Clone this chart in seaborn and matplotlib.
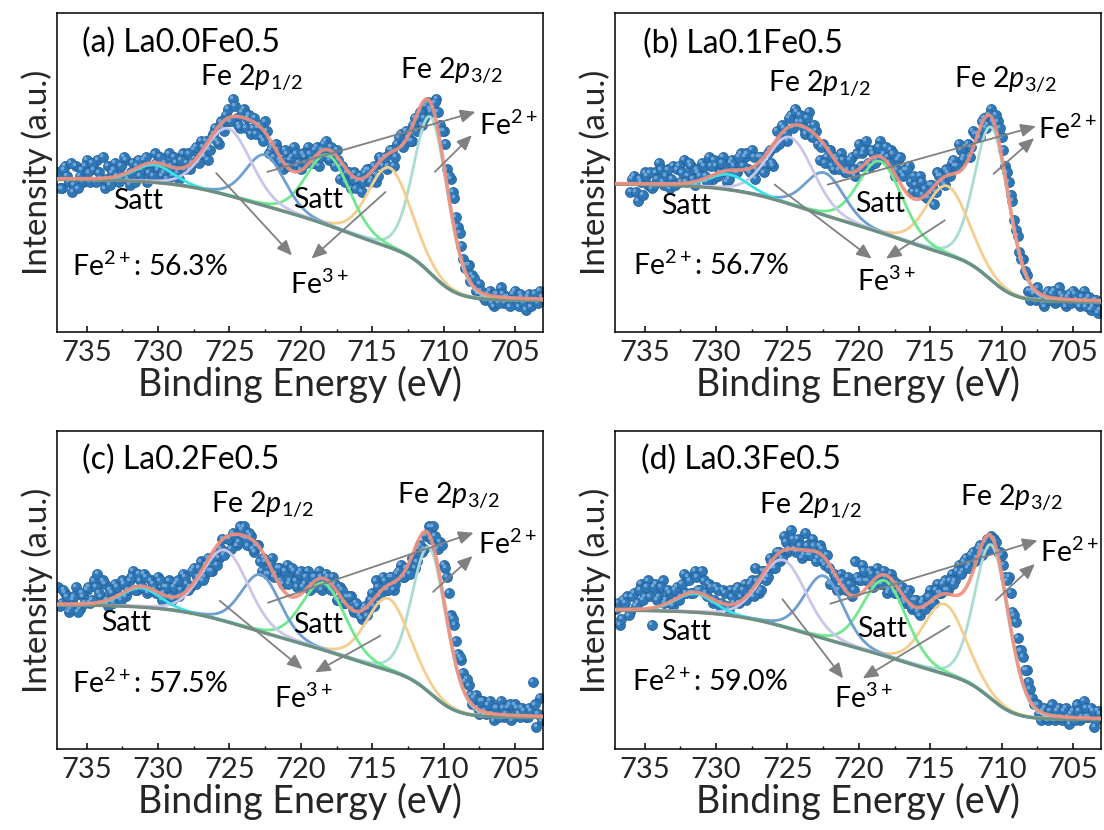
import numpy as np
import pandas as pd
import matplotlib
matplotlib.use("Agg")
import matplotlib.pyplot as plt
from matplotlib.ticker import MultipleLocator
from matplotlib.transforms import offset_copy
import seaborn as sns

sns.set_theme(style="white")
plt.rcParams["font.family"] = ["Lato", "DejaVu Sans"]
plt.rcParams["mathtext.fontset"] = "custom"
plt.rcParams["mathtext.rm"] = "Lato"
plt.rcParams["mathtext.it"] = "Lato:italic"
plt.rcParams["mathtext.bf"] = "Lato:bold"

# ---------------- data ----------------
panel_ids = ["a", "b", "c", "d"]
samples = ["La0.0Fe0.5", "La0.1Fe0.5", "La0.2Fe0.5", "La0.3Fe0.5"]
fe2_share = ["56.3%", "56.7%", "57.5%", "59.0%"]
energy_step = 0.25
energy_start = [737.0, 736.0, 737.0, 737.0]
x_ticks = [735, 730, 725, 720, 715, 710, 705]

# measured points on the 0.25 eV grid starting at energy_start
intensity_a = [50, 45, 52, 47, 44, 52, 49, 47, 54, 47,
               51, 54, 48, 45, 52, 50, 53, 47, 49, 54,
               46, 53, 52, 49, 54, 47, 52, 56, 51, 49,
               53, 56, 49, 53, 48, 56, 53, 51, 57, 54,
               60, 55, 54, 61, 64, 59, 64, 68, 66, 73,
               67, 64, 70, 67, 62, 67, 64, 61, 66, 56,
               58, 59, 54, 51, 56, 54, 58, 52, 51, 55,
               58, 54, 57, 52, 57, 60, 54, 55, 57, 48,
               49, 50, 45, 50, 47, 44, 50, 51, 48, 47,
               55, 52, 51, 57, 52, 59, 62, 59, 61, 60,
               67, 67, 65, 71, 70, 70, 73, 65, 63, 51,
               48, 42, 33, 27, 20, 21, 18, 13, 15, 11,
               11, 13, 8, 12, 14, 9, 11, 10, 13, 8,
               11, 7, 12, 10, 10, 13]
intensity_b = [44, 49, 41, 47, 50, 46, 45, 50, 53, 47,
               49, 45, 52, 51, 47, 54, 49, 52, 46, 50,
               53, 49, 55, 48, 52, 50, 55, 47, 53, 52,
               50, 56, 55, 51, 57, 48, 55, 53, 52, 57,
               52, 63, 60, 64, 60, 68, 70, 66, 66, 62,
               69, 61, 63, 54, 59, 55, 57, 51, 54, 56,
               50, 51, 55, 49, 59, 56, 60, 52, 56, 54,
               60, 56, 55, 57, 49, 54, 50, 51, 52, 44,
               46, 49, 43, 42, 46, 40, 50, 49, 46, 50,
               53, 52, 59, 54, 58, 55, 63, 62, 61, 67,
               65, 70, 65, 66, 61, 52, 47, 41, 32, 25,
               23, 18, 10, 12, 14, 10, 8, 13, 12, 9,
               14, 11, 8, 12, 13, 10, 8, 13, 10, 7,
               10, 6]
intensity_c = [51, 46, 49, 43, 47, 51, 44, 48, 50, 46,
               53, 55, 48, 52, 45, 49, 52, 48, 53, 48,
               53, 56, 50, 53, 55, 49, 53, 50, 54, 47,
               51, 53, 47, 52, 48, 55, 52, 51, 57, 54,
               59, 54, 60, 56, 61, 60, 66, 62, 66, 68,
               64, 70, 70, 64, 67, 62, 64, 56, 59, 55,
               60, 55, 57, 52, 58, 53, 56, 51, 56, 52,
               56, 51, 54, 56, 50, 55, 51, 54, 47, 51,
               46, 48, 48, 43, 45, 41, 45, 44, 49, 53,
               48, 54, 50, 54, 50, 55, 58, 54, 57, 60,
               57, 63, 62, 67, 70, 70, 63, 65, 58, 54,
               42, 39, 30, 28, 21, 20, 14, 17, 11, 15,
               11, 15, 9, 13, 15, 10, 13, 9, 14, 11,
               13, 10, 13, 21, 7, 16]
intensity_d = [44, 39, 47, 48, 43, 49, 46, 52, 48, 53,
               39, 52, 48, 53, 47, 49, 45, 51, 48, 55,
               54, 49, 56, 50, 56, 49, 52, 46, 51, 45,
               50, 45, 50, 46, 51, 48, 52, 48, 53, 57,
               49, 56, 53, 60, 57, 62, 59, 67, 62, 69,
               63, 66, 60, 68, 61, 66, 59, 64, 59, 61,
               52, 55, 50, 55, 51, 54, 48, 59, 53, 58,
               53, 56, 51, 57, 52, 56, 49, 55, 49, 52,
               51, 46, 50, 44, 47, 42, 47, 45, 50, 46,
               52, 49, 53, 50, 55, 53, 58, 56, 60, 58,
               62, 60, 64, 62, 66, 67, 66, 62, 61, 54,
               54, 43, 40, 31, 29, 25, 19, 14, 14, 9,
               13, 9, 14, 9, 13, 9, 13, 8, 12, 14,
               9, 15, 10, 13, 7, 12]

# measured points half-way between the grid above (energy_start - 0.125 eV onwards)
intensity_a_mid = [45, 51, 49, 53, 46, 45, 51, 52, 50, 53,
                   47, 50, 55, 48, 46, 51, 49, 52, 55, 48,
                   50, 47, 54, 51, 55, 50, 49, 53, 55, 50,
                   48, 52, 55, 50, 54, 51, 56, 53, 58, 53,
                   58, 60, 57, 62, 60, 66, 63, 70, 66, 71,
                   65, 69, 64, 68, 64, 62, 65, 60, 63, 57,
                   55, 57, 53, 57, 52, 55, 56, 53, 56, 53,
                   56, 53, 58, 55, 59, 55, 58, 52, 54, 52,
                   47, 50, 48, 45, 49, 47, 51, 47, 52, 49,
                   54, 55, 52, 57, 55, 61, 58, 63, 60, 65,
                   63, 69, 67, 72, 69, 72, 69, 63, 59, 49,
                   44, 36, 31, 23, 21, 16, 17, 12, 13, 10,
                   12, 9, 12, 9, 12, 11, 8, 12, 10, 12,
                   9, 11, 8, 12, 9, 11]
intensity_b_mid = [48, 44, 48, 43, 49, 50, 46, 48, 51, 46,
                   51, 48, 46, 52, 50, 47, 53, 48, 51, 49,
                   52, 47, 52, 54, 49, 53, 50, 48, 54, 50,
                   55, 52, 56, 50, 55, 51, 55, 50, 56, 53,
                   58, 59, 65, 62, 67, 64, 69, 68, 64, 67,
                   63, 65, 59, 58, 53, 57, 52, 55, 51, 54,
                   50, 54, 51, 56, 52, 57, 53, 57, 53, 58,
                   55, 58, 53, 56, 51, 55, 49, 51, 47, 49,
                   44, 47, 45, 42, 46, 44, 49, 47, 51, 49,
                   54, 52, 57, 55, 59, 58, 62, 61, 66, 64,
                   68, 66, 68, 64, 57, 50, 43, 35, 30, 23,
                   19, 13, 13, 10, 12, 9, 12, 10, 13, 10,
                   12, 9, 11, 9, 12, 9, 11, 8, 11, 8,
                   10, 7]
intensity_c_mid = [45, 50, 48, 44, 48, 43, 49, 46, 51, 47,
                   51, 49, 53, 47, 50, 46, 51, 47, 52, 50,
                   54, 50, 55, 51, 54, 50, 52, 49, 53, 49,
                   51, 48, 51, 53, 50, 54, 50, 56, 52, 57,
                   53, 58, 56, 60, 58, 63, 61, 66, 63, 67,
                   65, 69, 66, 68, 63, 64, 59, 60, 55, 58,
                   54, 57, 53, 56, 52, 57, 53, 55, 51, 54,
                   50, 54, 51, 54, 52, 54, 50, 52, 47, 50,
                   46, 48, 44, 46, 42, 44, 42, 47, 45, 51,
                   49, 53, 50, 54, 52, 56, 54, 57, 55, 60,
                   59, 64, 63, 68, 66, 67, 63, 64, 57, 49,
                   41, 34, 29, 24, 22, 17, 16, 13, 15, 12,
                   14, 11, 13, 10, 13, 11, 14, 10, 13, 10,
                   12, 10, 12, 14, 11, 9]
intensity_d_mid = [46, 41, 46, 42, 48, 45, 50, 47, 51, 48,
                   51, 47, 51, 46, 50, 46, 50, 47, 52, 49,
                   53, 49, 54, 50, 53, 48, 51, 47, 50, 46,
                   49, 44, 48, 50, 46, 50, 47, 52, 48, 53,
                   50, 56, 54, 59, 57, 62, 60, 65, 63, 66,
                   62, 64, 61, 64, 61, 64, 60, 63, 58, 57,
                   52, 54, 50, 53, 50, 52, 50, 54, 53, 56,
                   53, 55, 52, 55, 52, 54, 50, 53, 49, 50,
                   47, 49, 45, 47, 43, 46, 44, 48, 46, 50,
                   49, 52, 50, 53, 52, 56, 55, 59, 57, 61,
                   59, 63, 61, 65, 63, 66, 65, 62, 58, 53,
                   49, 42, 35, 31, 25, 21, 16, 14, 11, 12,
                   10, 12, 10, 12, 10, 12, 10, 11, 9, 12,
                   10, 13, 10, 12, 9, 11]

# fitted components: Fe2+ 2p3/2, Fe3+ 2p3/2, satellite, Fe2+ 2p1/2, Fe3+ 2p1/2, satellite
component_names = ["Fe2+ 2p3/2", "Fe3+ 2p3/2", "Satt", "Fe2+ 2p1/2", "Fe3+ 2p1/2", "Satt"]
peak_center_a = [710.9, 713.8, 718.1, 722.5, 725.1, 730.3]
peak_center_b = [710.7, 713.8, 718.5, 722.4, 724.8, 729.1]
peak_center_c = [711.0, 713.9, 718.4, 722.8, 725.3, 731.2]
peak_center_d = [710.7, 714.0, 718.2, 722.45, 725.3, 731.5]
peak_height_a = [49.0, 25.0, 22.0, 16.0, 21.0, 5.5]
peak_height_b = [48.0, 21.5, 22.3, 13.3, 21.0, 4.8]
peak_height_c = [45.5, 22.6, 21.0, 18.0, 22.4, 6.0]
peak_height_d = [48.5, 22.0, 23.7, 19.7, 21.0, 5.8]
peak_fwhm = [2.8, 3.5, 3.6, 3.2, 3.8, 3.2]
lorentz_fraction = 0.15

# Shirley-like background: low level + three steps
bg_low = [9.9, 9.4, 9.9, 9.2]
bg_step_center = [710.8, 716.5, 724.5]
bg_step_width = [0.9, 2.2, 2.5]
bg_step_a = [14.0, 13.0, 11.0]
bg_step_b = [12.5, 11.5, 13.0]
bg_step_c = [12.5, 11.0, 12.0]
bg_step_d = [12.0, 10.5, 12.0]

intensities = [intensity_a, intensity_b, intensity_c, intensity_d]
intensities_mid = [intensity_a_mid, intensity_b_mid, intensity_c_mid, intensity_d_mid]
centers = [peak_center_a, peak_center_b, peak_center_c, peak_center_d]
heights = [peak_height_a, peak_height_b, peak_height_c, peak_height_d]
bg_steps = [bg_step_a, bg_step_b, bg_step_c, bg_step_d]

# ---------------- styles / layout ----------------
comp_colors = ["#a9dcd3", "#f5cd8d", "#6fe88f", "#6e9fcf", "#cbc5e8", "#38e3e8"]
bg_color = "#72877a"
fit_color = "#f08f7d"
dot_color = "#2f78b8"
dot_edge = "#215e99"
dot_highlight = "#6fa6d8"
arrow_color = "#808080"

axes_rects = [
    [57 / 1104, 1 - 332 / 830, 486 / 1104, 319 / 830],
    [615 / 1104, 1 - 332 / 830, 486 / 1104, 319 / 830],
    [57 / 1104, 1 - 749 / 830, 486 / 1104, 318 / 830],
    [615 / 1104, 1 - 749 / 830, 486 / 1104, 318 / 830],
]

layout = {
    "a": dict(title=(735.32, 87.8), p12=(727.09, 77.3), p32=(713.08, 79.4),
              fe2=(707.52, 61.7), satt1=(733.17, 38.7), satt2=(720.57, 39.0),
              fe3=(720.74, 12.0), pct=(736.06, 17.5),
              arrows=[((722.35, 50.2), (707.77, 69.0)), ((710.61, 50.2), (708.02, 61.7)),
                      ((725.93, 49.8), (720.62, 24.0)), ((714.07, 43.9), (719.26, 23.0))]),
    "b": dict(title=(735.1, 87.3), p12=(726.34, 75.5), p32=(713.33, 76.6),
              fe2=(707.47, 60.6), satt1=(733.86, 37.1), satt2=(720.26, 37.6),
              fe3=(720.16, 13.0), pct=(735.84, 17.8),
              arrows=[((722.19, 46.2), (707.6, 64.5)), ((710.56, 49.6), (707.72, 60.8)),
                      ((725.9, 46.2), (719.1, 23.0)), ((713.98, 35.0), (718.1, 23.0))]),
    "c": dict(title=(735.32, 88.0), p12=(726.3, 74.3), p32=(713.26, 77.3),
              fe2=(707.57, 61.3), satt1=(733.96, 37.2), satt2=(720.57, 36.4),
              fe3=(721.85, 12.8), pct=(736.06, 17.6),
              arrows=[((722.3, 46.0), (707.9, 68.0)), ((710.74, 49.4), (707.97, 60.7)),
                      ((725.68, 46.6), (719.88, 25.1)), ((714.44, 35.6), (719.01, 24.1))]),
    "d": dict(title=(735.25, 88.0), p12=(726.98, 73.9), p32=(712.92, 76.5),
              fe2=(707.28, 58.8), satt1=(733.84, 34.2), satt2=(720.1, 35.3),
              fe3=(721.71, 12.8), pct=(735.89, 18.3),
              arrows=[((722.0, 45.7), (707.48, 65.6)), ((710.4, 46.8), (707.67, 58.2)),
                      ((725.35, 47.1), (721.1, 22.2)), ((713.66, 38.7), (719.73, 22.2))]),
}

XLIM = (737.08, 703.04)
YLIM = (0, 100)
ANN_FS = 20.5


def gl_peak(e, c, h, w, m):
    u = (e - c) / w
    return h * ((1 - m) * np.exp(-4 * np.log(2) * u ** 2) + m / (1 + 4 * u ** 2))


def background(e, low, amps):
    b = np.full_like(e, low, dtype=float)
    for a, c, w in zip(amps, bg_step_center, bg_step_width):
        b += a / (1 + np.exp(-(e - c) / w))
    return b


fig = plt.figure(figsize=(11.04, 8.30), dpi=100)
grid = np.linspace(XLIM[0] + 0.1, XLIM[1] - 0.1, 800)

for i, pid in enumerate(panel_ids):
    ax = fig.add_axes(axes_rects[i])
    y1 = np.array(intensities[i], dtype=float)
    x1 = energy_start[i] - energy_step * np.arange(len(y1))
    y2 = np.array(intensities_mid[i], dtype=float)
    x2 = energy_start[i] - energy_step / 2 - energy_step * np.arange(len(y2))
    df = pd.DataFrame({"E": np.concatenate([x1, x2]), "I": np.concatenate([y1, y2])})
    sns.scatterplot(data=df, x="E", y="I", ax=ax, s=52, color=dot_color,
                    edgecolor=dot_edge, linewidth=0.5, zorder=2, legend=False)
    # small specular highlight on each sphere-like marker
    hl = offset_copy(ax.transData, fig=fig, x=-1.3, y=1.3, units="points")
    sns.scatterplot(data=df, x="E", y="I", ax=ax, s=7, color=dot_highlight,
                    linewidth=0, zorder=2.1, legend=False, transform=hl)

    bg = background(grid, bg_low[i], bg_steps[i])
    total = bg.copy()
    for k in range(len(component_names)):
        comp = gl_peak(grid, centers[i][k], heights[i][k], peak_fwhm[k], lorentz_fraction)
        total += comp
        sns.lineplot(x=grid, y=bg + comp, ax=ax, color=comp_colors[k], lw=2.0,
                     sort=False, estimator=None, zorder=3)
    sns.lineplot(x=grid, y=bg, ax=ax, color=bg_color, lw=2.4, alpha=0.9,
                 sort=False, estimator=None, zorder=4)
    sns.lineplot(x=grid, y=total, ax=ax, color=fit_color, lw=2.6, alpha=0.9,
                 sort=False, estimator=None, zorder=5)

    ax.set_xlim(*XLIM)
    ax.set_ylim(*YLIM)
    ax.set_xticks(x_ticks)
    ax.xaxis.set_minor_locator(MultipleLocator(2.5))
    ax.set_yticks([])
    ax.tick_params(axis="x", which="major", direction="in", length=4.5, width=1.1,
                   labelsize=21, pad=6, bottom=True, top=False, color="black")
    ax.tick_params(axis="x", which="minor", direction="in", length=2.3, width=1.0,
                   bottom=True, top=False, color="black")
    for sp in ax.spines.values():
        sp.set_color("black")
        sp.set_linewidth(1.1)
    ax.set_xlabel("Binding Energy (eV)", fontsize=27, labelpad=0)
    ax.set_ylabel("Intensity (a.u.)", fontsize=24, labelpad=3)

    L = layout[pid]
    tkw = dict(ha="left", va="baseline", zorder=6, color="black")
    ax.text(*L["title"], f"({pid}) {samples[i]}", fontsize=23, **tkw)
    ax.text(*L["p12"], r"Fe 2$\mathit{p}_{1/2}$", fontsize=ANN_FS, **tkw)
    ax.text(*L["p32"], r"Fe 2$\mathit{p}_{3/2}$", fontsize=ANN_FS, **tkw)
    ax.text(*L["fe2"], r"Fe$^{2+}$", fontsize=ANN_FS, **tkw)
    ax.text(*L["satt1"], "Satt", fontsize=ANN_FS, **tkw)
    ax.text(*L["satt2"], "Satt", fontsize=ANN_FS, **tkw)
    ax.text(*L["fe3"], r"Fe$^{3+}$", fontsize=ANN_FS, **tkw)
    ax.text(*L["pct"], r"Fe$^{2+}$: " + fe2_share[i], fontsize=ANN_FS, **tkw)
    for tail, head in L["arrows"]:
        ax.annotate("", xy=head, xytext=tail,
                    arrowprops=dict(arrowstyle="-|>,head_length=0.5,head_width=0.22",
                                    color=arrow_color, lw=1.3, mutation_scale=18,
                                    shrinkA=0, shrinkB=0),
                    zorder=6)

fig.savefig("out.png", dpi=100)
